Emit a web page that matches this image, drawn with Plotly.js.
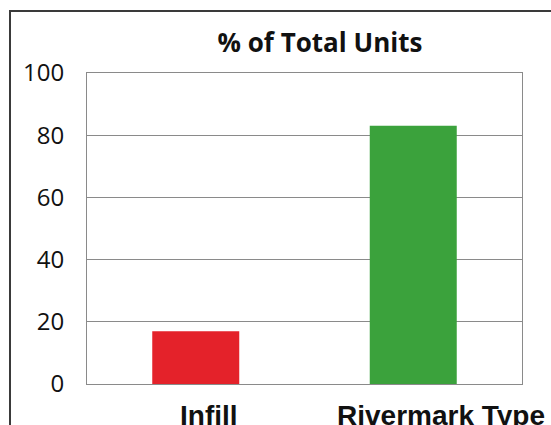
<!DOCTYPE html>
<html>
<head>
<meta charset="utf-8">
<script src="https://cdn.plot.ly/plotly-3.0.1.min.js"></script>
<style>
  html, body { margin: 0; padding: 0; background: #fff; overflow: hidden; }
  #frame { position: absolute; left: 9px; top: 10px; width: 600px; height: 500px;
           border-left: 2px solid #3a3a3a; border-top: 2px solid #3a3a3a; pointer-events: none; z-index: 2; }
  #chart { position: absolute; left: 0; top: 0; width: 551px; height: 425px; }
</style>
</head>
<body>
<div id="chart"></div>
<div id="frame"></div>
<script>
const categories = ["Infill", "Rivermark Type"];
const values = [17, 83];
const barColors = ["#e4222a", "#3ba23c"];
const yTicks = [0, 20, 40, 60, 80, 100];
const chartTitle = "% of Total Units";
const labelShifts = [13, 28];

const trace = {
  type: "bar",
  x: categories,
  y: values,
  width: 0.4,
  marker: { color: barColors, line: { width: 0 } },
  hoverinfo: "skip"
};

const labelFont = { family: "Liberation Sans, Arial, sans-serif", size: 28, color: "#111", weight: "bold" };

const annotations = categories.map((c, i) => ({
  x: c, xref: "x",
  y: 0, yref: "paper",
  yanchor: "top", xanchor: "center",
  yshift: -14,
  xshift: labelShifts[i],
  text: "<b>" + c + "</b>",
  showarrow: false,
  font: labelFont
}));

const layout = {
  width: 551,
  height: 425,
  margin: { l: 87, r: 29, t: 73, b: 41, pad: 0 },
  paper_bgcolor: "#ffffff",
  plot_bgcolor: "#ffffff",
  showlegend: false,
  title: {
    text: "<b>" + chartTitle + "</b>",
    font: { family: "Open Sans", size: 26, color: "#111" },
    x: 320 / 551, xref: "container", xanchor: "center",
    y: 1 - 43 / 425, yref: "container", yanchor: "middle"
  },
  xaxis: {
    type: "category",
    range: [-0.5, 1.5],
    showline: true, mirror: true, linecolor: "#8a8a8a", linewidth: 1,
    showgrid: false, zeroline: false,
    ticks: "", showticklabels: false
  },
  yaxis: {
    range: [0, 100],
    tickvals: yTicks,
    ticktext: yTicks.map(String),
    showline: true, mirror: true, linecolor: "#8a8a8a", linewidth: 1,
    showgrid: true, gridcolor: "#8a8a8a", gridwidth: 1,
    zeroline: false,
    ticks: "", ticklabelstandoff: 17,
    tickfont: { family: "Open Sans", size: 24, color: "#111" }
  },
  annotations: annotations
};

Plotly.newPlot("chart", [trace], layout, { staticPlot: true, displayModeBar: false });
</script>
</body>
</html>
